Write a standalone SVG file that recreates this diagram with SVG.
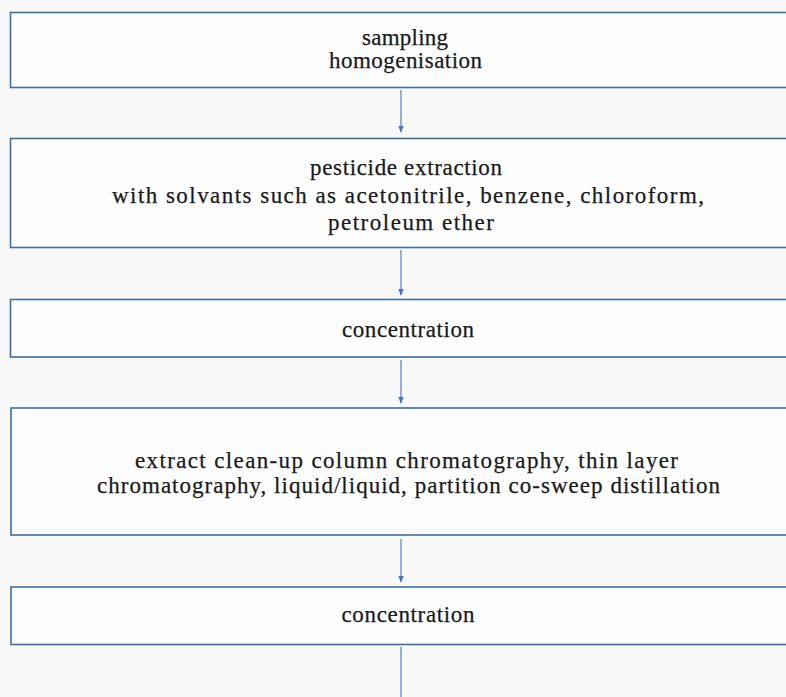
<svg xmlns="http://www.w3.org/2000/svg" width="786" height="697" viewBox="0 0 786 697">
<style>
.bg{fill:#f8f8f8}
.box{fill:#fdfdfd;stroke:#3b6f9c;stroke-width:1.6}
.t{font-family:'Liberation Serif','DejaVu Serif',serif;font-size:23px;fill:#1a1a1a;stroke:#1a1a1a;stroke-width:0.25;text-anchor:middle}
.c{stroke:#4a74b4;stroke-width:1.1;fill:none}
</style>
<defs>
<marker id="ah" viewBox="0 0 10 10" refX="9" refY="5" markerWidth="7" markerHeight="7" markerUnits="userSpaceOnUse" orient="auto">
<path d="M0,1 L10,5 L0,9 Z" fill="#4a74b4"/>
</marker>
</defs>
<rect class="bg" x="0" y="0" width="786" height="697"/>
<g id="n1">
<rect class="box" x="10.5" y="12.5" width="800" height="75"/>
<text class="t" x="405" y="45" textLength="86" lengthAdjust="spacing">sampling</text>
<text class="t" x="405.5" y="68" textLength="153" lengthAdjust="spacing">homogenisation</text>
</g>
<g id="n2">
<rect class="box" x="10.5" y="138.5" width="800" height="109"/>
<text class="t" x="406" y="175" textLength="192" lengthAdjust="spacing">pesticide extraction</text>
<text class="t" x="408" y="203" textLength="592" lengthAdjust="spacing">with solvants such as acetonitrile, benzene, chloroform,</text>
<text class="t" x="411" y="230" textLength="166" lengthAdjust="spacing">petroleum ether</text>
</g>
<g id="n3">
<rect class="box" x="10.5" y="299.5" width="800" height="57.5"/>
<text class="t" x="408" y="337" textLength="132" lengthAdjust="spacing">concentration</text>
</g>
<g id="n4">
<rect class="box" x="11" y="408" width="800" height="127"/>
<text class="t" x="406.5" y="468" textLength="543" lengthAdjust="spacing">extract clean-up column chromatography, thin layer</text>
<text class="t" x="408.5" y="493" textLength="623" lengthAdjust="spacing">chromatography, liquid/liquid, partition co-sweep distillation</text>
</g>
<g id="n5">
<rect class="box" x="11" y="587" width="800" height="57.5"/>
<text class="t" x="408" y="622" textLength="133" lengthAdjust="spacing">concentration</text>
</g>
<g id="connectors">
<line class="c" x1="401" y1="90" x2="401" y2="132" marker-end="url(#ah)"/>
<line class="c" x1="401" y1="250" x2="401" y2="295" marker-end="url(#ah)"/>
<line class="c" x1="401" y1="360" x2="401" y2="403" marker-end="url(#ah)"/>
<line class="c" x1="401" y1="539" x2="401" y2="582" marker-end="url(#ah)"/>
<line class="c" x1="401" y1="647" x2="401" y2="697"/>
</g>
</svg>
